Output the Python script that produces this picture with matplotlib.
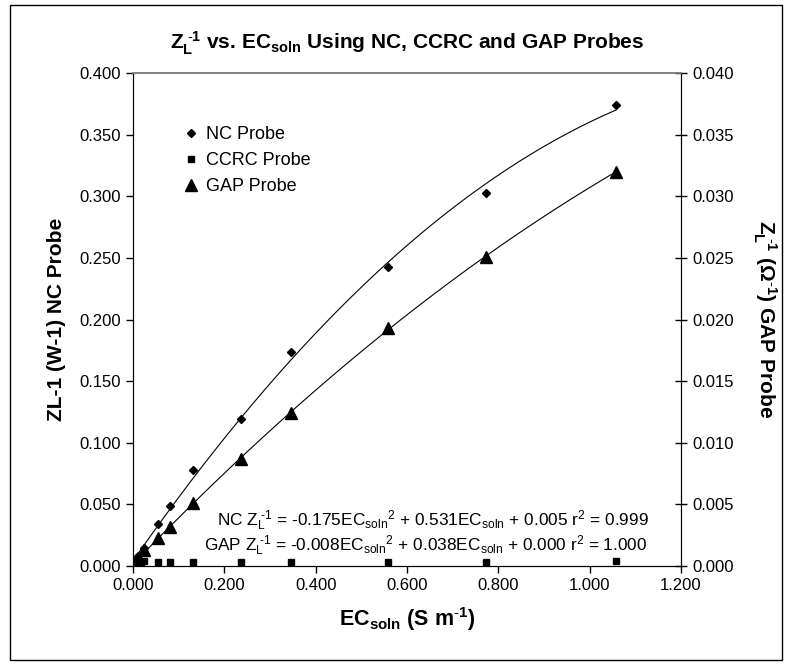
import numpy as np
import matplotlib
matplotlib.use('Agg')
import matplotlib.pyplot as plt
from matplotlib.patches import Rectangle

plt.rcParams['font.family'] = ['Liberation Sans', 'DejaVu Sans']
plt.rcParams['mathtext.fontset'] = 'custom'
plt.rcParams['mathtext.rm'] = 'Liberation Sans'
plt.rcParams['mathtext.it'] = 'Liberation Sans'
plt.rcParams['mathtext.bf'] = 'Liberation Sans:bold'

# data
ec = np.array([0.000, 0.006, 0.012, 0.024, 0.055, 0.081, 0.131, 0.236, 0.346, 0.558, 0.773, 1.058])
nc = np.array([0.001, 0.005, 0.008, 0.015, 0.034, 0.049, 0.078, 0.119, 0.174, 0.243, 0.303, 0.374])
ccrc = np.array([0.001, 0.004, 0.003, 0.004, 0.003, 0.003, 0.003, 0.003, 0.003, 0.003, 0.003, 0.004])
gap = np.array([0.0000, 0.0003, 0.0006, 0.0013, 0.0023, 0.0032, 0.0051, 0.0087, 0.0124, 0.0193, 0.0251, 0.0320])

xticks = np.arange(0, 1.21, 0.2)
yticks_nc = np.arange(0, 0.401, 0.05)
yticks_gap = np.arange(0, 0.0401, 0.005)

fig = plt.figure(figsize=(7.92, 6.64), dpi=100)
ax = fig.add_axes([133/792, 1-566/664, (681-133)/792, (566-73)/664])
ax2 = ax.twinx()

# trendlines (2nd order fits)
xx = np.linspace(0, ec.max(), 200)
p_nc = np.polyfit(ec, nc, 2)
p_gap = np.polyfit(ec, gap, 2)
ax.plot(xx, np.polyval(p_nc, xx), c='k', lw=0.8)
ax2.plot(xx, np.polyval(p_gap, xx), c='k', lw=0.8)

h1, = ax.plot(ec, nc, 'D', c='k', ms=4.5, label='NC Probe')
h2, = ax.plot(ec, ccrc, 's', c='k', ms=4.5, label='CCRC Probe')
h3, = ax2.plot(ec, gap, '^', c='k', ms=9, label='GAP Probe')

ax.set_xlim(0, 1.2)
ax.set_ylim(0, 0.4)
ax2.set_ylim(0, 0.04)
ax.set_xticks(xticks)
ax.set_xticklabels(['{:.3f}'.format(v) for v in xticks], fontsize=12)
ax.set_yticks(yticks_nc)
ax.set_yticklabels(['{:.3f}'.format(v) for v in yticks_nc], fontsize=12)
ax2.set_yticks(yticks_gap)
ax2.set_yticklabels(['{:.3f}'.format(v) for v in yticks_gap], fontsize=12)
ax.tick_params(axis='x', direction='out', length=5, width=1)
ax.tick_params(axis='y', direction='out', length=5, width=1)
ax2.tick_params(axis='y', direction='inout', length=9, width=1)

for a in (ax, ax2):
    a.spines['top'].set_color('#808080')
    a.spines['top'].set_linewidth(1.2)

ax.set_xlabel(r'$\mathbf{EC_{soln}}$ (S m$^{\mathbf{\text{-}1}}$)', fontsize=15.5, fontweight='bold', labelpad=9)
ax.set_ylabel('ZL-1 (W-1) NC Probe', fontsize=15, fontweight='bold', labelpad=10)
ax2.set_ylabel(r'$\mathbf{Z_L^{\ \text{-}1}}$ ($\mathbf{\Omega^{\text{-}1}}$) GAP Probe', fontsize=15,
               fontweight='bold', rotation=-90, labelpad=32)
ax.set_title(r'$\mathbf{Z_L^{\ \text{-}1}}$ vs. $\mathbf{EC_{soln}}$ Using NC, CCRC and GAP Probes',
             fontsize=15, fontweight='bold', pad=17)

ax.legend(handles=[h1, h2, h3], loc='upper left', bbox_to_anchor=(0.06, 0.925), frameon=False,
          fontsize=13, labelspacing=0.5, handletextpad=0.3, handlelength=1.0)

ax.text(0.153, 0.092, r'NC Z$_L^{\ \text{-}1}$ = -0.175EC$_{soln}$$^2$ + 0.531EC$_{soln}$ + 0.005 r$^2$ = 0.999',
        transform=ax.transAxes, fontsize=12.4, va='center')
ax.text(0.13, 0.041, r'GAP Z$_L^{\ \text{-}1}$ = -0.008EC$_{soln}$$^2$ + 0.038EC$_{soln}$ + 0.000 r$^2$ = 1.000',
        transform=ax.transAxes, fontsize=12.4, va='center')

fig.patches.append(Rectangle((10/792, 4/664), 772/792, 655/664, transform=fig.transFigure,
                             fill=False, ec='k', lw=1))

plt.savefig('out.png', dpi=100)
